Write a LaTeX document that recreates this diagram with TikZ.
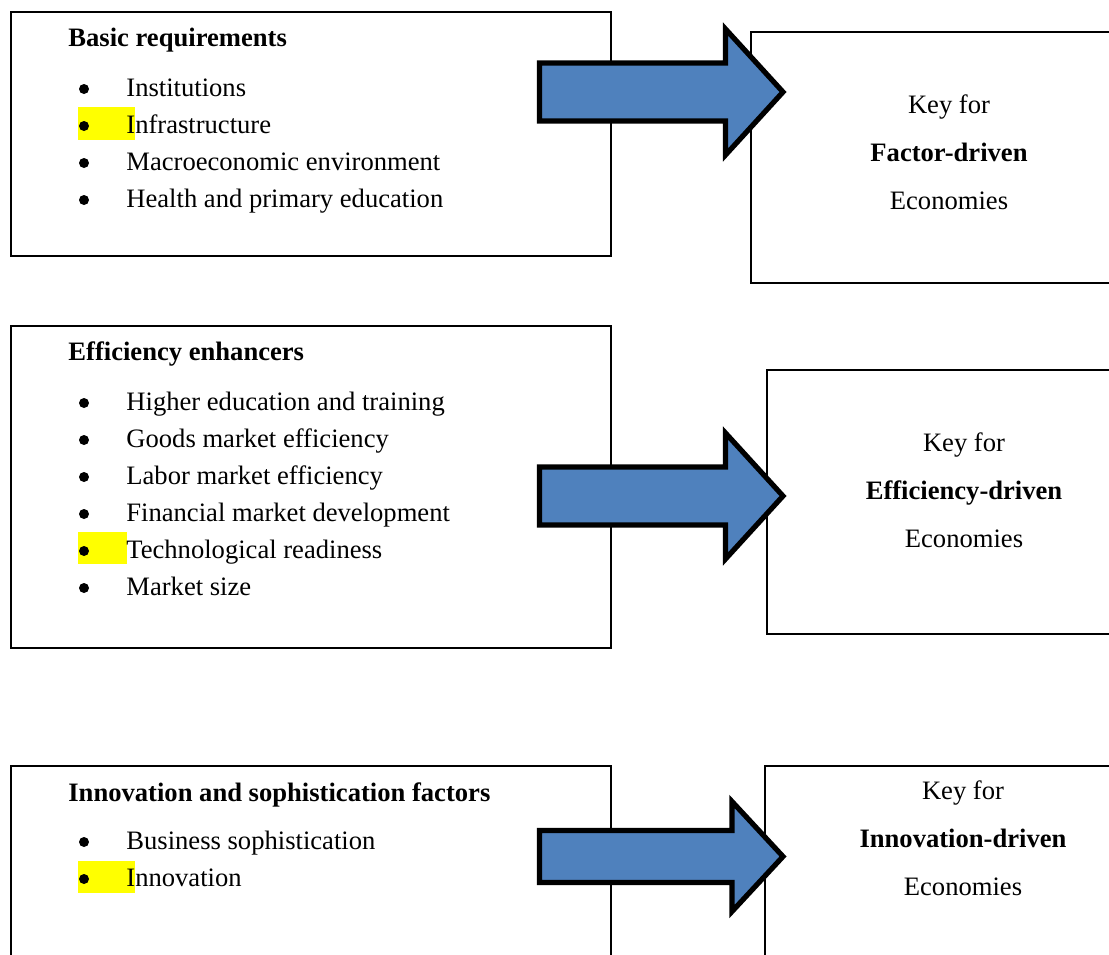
\documentclass[tikz,border=0pt]{standalone}
\usepackage{fontspec}
\setmainfont{Liberation Serif}
\usepackage{tikz}
\definecolor{arrowblue}{HTML}{4F81BD}
\definecolor{marker}{HTML}{FFFF00}

\begin{document}
\begin{tikzpicture}[x=0.5pt, y=-0.5pt, font=\fontsize{13.3pt}{24pt}\selectfont,
  panel/.style={draw, line width=0.8pt, anchor=north west, inner sep=0pt},
  head/.style={anchor=base west, inner sep=0pt, font=\fontsize{13.3pt}{24pt}\selectfont\bfseries},
  item/.style={anchor=base west, inner sep=0pt},
  dot/.style={circle, fill, inner sep=0pt, minimum size=5pt},
  keytext/.style={align=center, inner sep=0pt},
  bigarrow/.style={draw, line width=2.6pt, fill=arrowblue, line join=miter}]
  \useasboundingbox (0,0) rectangle (1109,954);
  \clip (0,0) rectangle (1109,954);
  \fill[white] (0,0) rectangle (1109,954);

  % yellow marks behind three bullets
  \fill[marker] (78,107) rectangle (135,140);
  \fill[marker] (78,532) rectangle (127,564);
  \fill[marker] (78,861) rectangle (135,893);

  % left panels
  \node[panel, minimum width=300pt, minimum height=122pt] (basic) at (10,11) {};
  \node[panel, minimum width=300pt, minimum height=161pt] (effic) at (10,325) {};
  \node[panel, minimum width=300pt, minimum height=200pt] (innov) at (10,765) {};

  \node[head] (basic-t) at (68,46) {Basic requirements};
  \foreach \txt [count=\i] in {Institutions, Infrastructure, Macroeconomic environment, Health and primary education} {
    \node[dot] (basic-b\i) at (84,52+37*\i) {};
    \node[item] (basic-\i) at (126,59+37*\i) {\txt};
  }

  \node[head] (effic-t) at (68,360) {Efficiency enhancers};
  \foreach \txt [count=\i] in {Higher education and training, Goods market efficiency, Labor market efficiency, Financial market development, Technological readiness, Market size} {
    \node[dot] (effic-b\i) at (84,366+37*\i) {};
    \node[item] (effic-\i) at (126,373+37*\i) {\txt};
  }

  \node[head] (innov-t) at (68,801) {Innovation and sophistication factors};
  \foreach \txt [count=\i] in {Business sophistication, Innovation} {
    \node[dot] (innov-b\i) at (84,805+37*\i) {};
    \node[item] (innov-\i) at (126,812+37*\i) {\txt};
  }

  % right key boxes
  \node[panel, minimum width=200pt, minimum height=125.5pt] (factor) at (750,31) {};
  \node[panel, minimum width=200pt, minimum height=132pt] (efficd) at (766,369) {};
  \node[panel, minimum width=200pt, minimum height=200pt] (innovd) at (764,765) {};

  \node[keytext] (factor-k) at (949,152) {Key for\\\textbf{Factor-driven}\\Economies};
  \node[keytext] (efficd-k) at (964,490) {Key for\\\textbf{Efficiency-driven}\\Economies};
  \node[keytext] (innovd-k) at (963,838) {Key for\\\textbf{Innovation-driven}\\Economies};

  % block arrows
  \foreach \cy/\sh/\hh/\hb in {92/29/63/725.5, 496/29/63/725.5, 856.5/26/55/732} {
    \draw[bigarrow] (539.5,\cy-\sh) -- (\hb,\cy-\sh) -- (\hb,\cy-\hh) -- (783,\cy)
      -- (\hb,\cy+\hh) -- (\hb,\cy+\sh) -- (539.5,\cy+\sh) -- cycle;
  }
\end{tikzpicture}
\end{document}
